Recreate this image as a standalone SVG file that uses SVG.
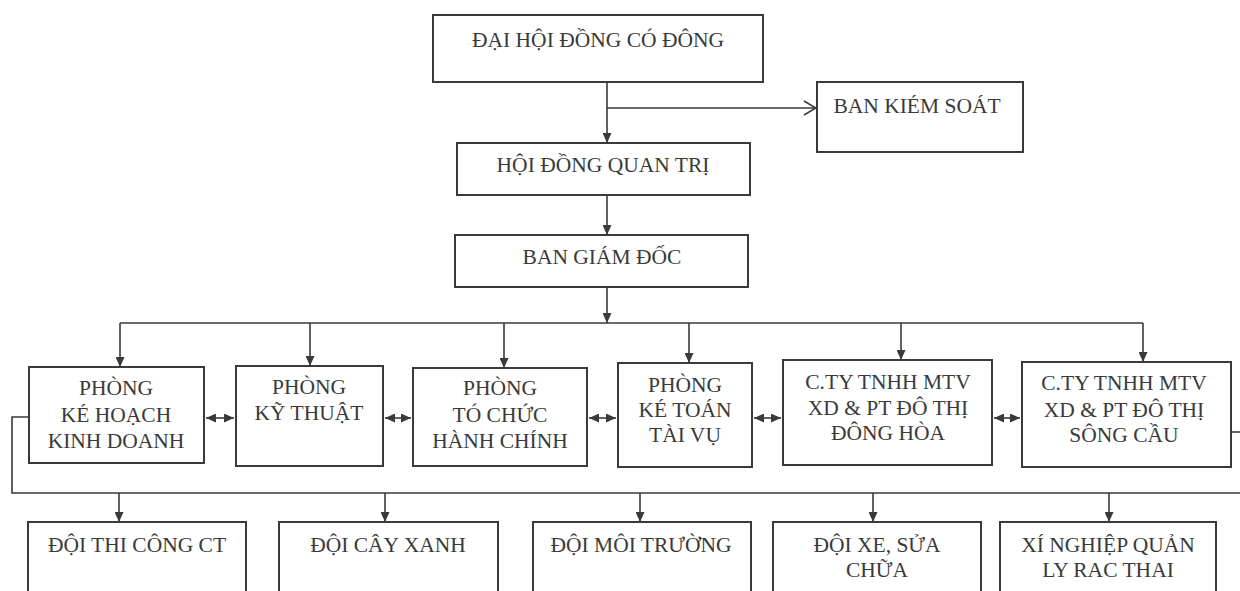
<svg xmlns="http://www.w3.org/2000/svg" width="1240" height="591" viewBox="0 0 1240 591">
<style>
.box{fill:#ffffff;stroke:#3a3a3a;stroke-width:2}
.t{font-family:"Liberation Serif","Times New Roman",serif;font-size:21.5px;fill:#3a3a3a;text-anchor:middle}
.c{fill:none;stroke:#3a3a3a;stroke-width:1.6}
.a{marker-end:url(#tri)}
.d{marker-start:url(#tri);marker-end:url(#tri)}
</style>
<defs>
<marker id="tri" markerUnits="userSpaceOnUse" markerWidth="10" markerHeight="9" refX="10" refY="4.5" orient="auto-start-reverse">
<path d="M0,0 L10,4.5 L0,9 z" fill="#3a3a3a"/>
</marker>
<marker id="open" markerUnits="userSpaceOnUse" markerWidth="14" markerHeight="16" refX="13" refY="8" orient="auto">
<path d="M1,1 L13,8 L1,15" fill="none" stroke="#3a3a3a" stroke-width="1.6"/>
</marker>
</defs>
<rect width="1240" height="591" fill="#ffffff"/>

<g id="connectors">
<path class="c a" d="M607,82 V143"/>
<path class="c" d="M607,108 H816" marker-end="url(#open)"/>
<path class="c a" d="M607,195 V235"/>
<path class="c a" d="M607,287 V323"/>
<path class="c" d="M120,323 H1143"/>
<path class="c a" d="M120,323 V367"/>
<path class="c a" d="M310,323 V366"/>
<path class="c a" d="M504,323 V368"/>
<path class="c a" d="M689,323 V363"/>
<path class="c a" d="M901,323 V360"/>
<path class="c a" d="M1143,323 V362"/>
<path class="c d" d="M206,418 H234"/>
<path class="c d" d="M385,418 H411"/>
<path class="c d" d="M589,418 H616"/>
<path class="c d" d="M754,418 H781"/>
<path class="c d" d="M994,418 H1020"/>
<path class="c" d="M29,417 H12 V493 H1240"/>
<path class="c" d="M1231,432 H1240"/>
<path class="c a" d="M119,493 V522"/>
<path class="c a" d="M385,493 V522"/>
<path class="c a" d="M640,493 V522"/>
<path class="c a" d="M873,493 V522"/>
<path class="c a" d="M1109,493 V522"/>
</g>

<g id="dai-hoi-dong-co-dong">
<rect class="box" x="433" y="15" width="330" height="67"/>
<text class="t" x="598" y="47">ĐẠI HỘI ĐỒNG CÓ ĐÔNG</text>
</g>
<g id="ban-kiem-soat">
<rect class="box" x="817" y="82" width="206" height="70"/>
<text class="t" x="917" y="113">BAN KIÉM SOÁT</text>
</g>
<g id="hoi-dong-quan-tri">
<rect class="box" x="457" y="143" width="293" height="52"/>
<text class="t" x="603" y="172">HỘI ĐỒNG QUAN TRỊ</text>
</g>
<g id="ban-giam-doc">
<rect class="box" x="455" y="235" width="293" height="52"/>
<text class="t" x="602" y="264">BAN GIÁM ĐỐC</text>
</g>

<g id="phong-ke-hoach-kinh-doanh">
<rect class="box" x="29" y="367" width="175" height="96"/>
<text class="t" x="116" y="395">PHÒNG</text>
<text class="t" x="116" y="422">KÉ HOẠCH</text>
<text class="t" x="116" y="448">KINH DOANH</text>
</g>
<g id="phong-ky-thuat">
<rect class="box" x="236" y="366" width="147" height="100"/>
<text class="t" x="309" y="394">PHÒNG</text>
<text class="t" x="309" y="420">KỸ THUẬT</text>
</g>
<g id="phong-to-chuc-hanh-chinh">
<rect class="box" x="413" y="368" width="174" height="98"/>
<text class="t" x="500" y="395">PHÒNG</text>
<text class="t" x="500" y="422">TÓ CHỨC</text>
<text class="t" x="500" y="448">HÀNH CHÍNH</text>
</g>
<g id="phong-ke-toan-tai-vu">
<rect class="box" x="618" y="363" width="134" height="104"/>
<text class="t" x="685" y="392">PHÒNG</text>
<text class="t" x="685" y="417">KÉ TOÁN</text>
<text class="t" x="685" y="442">TÀI VỤ</text>
</g>
<g id="cty-dong-hoa">
<rect class="box" x="783" y="360" width="209" height="105"/>
<text class="t" x="888" y="389">C.TY TNHH MTV</text>
<text class="t" x="888" y="415">XD &amp; PT ĐÔ THỊ</text>
<text class="t" x="888" y="440">ĐÔNG HÒA</text>
</g>
<g id="cty-song-cau">
<rect class="box" x="1022" y="362" width="209" height="105"/>
<text class="t" x="1124" y="390">C.TY TNHH MTV</text>
<text class="t" x="1124" y="417">XD &amp; PT ĐÔ THỊ</text>
<text class="t" x="1124" y="442">SÔNG CẦU</text>
</g>

<g id="doi-thi-cong-ct">
<rect class="box" x="28" y="522" width="218" height="80"/>
<text class="t" x="137" y="552">ĐỘI THI CÔNG CT</text>
</g>
<g id="doi-cay-xanh">
<rect class="box" x="279" y="522" width="219" height="80"/>
<text class="t" x="388" y="552">ĐỘI CÂY XANH</text>
</g>
<g id="doi-moi-truong">
<rect class="box" x="533" y="522" width="218" height="80"/>
<text class="t" x="641" y="552">ĐỘI MÔI TRƯỜNG</text>
</g>
<g id="doi-xe-sua-chua">
<rect class="box" x="773" y="522" width="208" height="80"/>
<text class="t" x="877" y="552">ĐỘI XE, SỬA</text>
<text class="t" x="877" y="577">CHỮA</text>
</g>
<g id="xi-nghiep-quan-ly-rac-thai">
<rect class="box" x="1000" y="522" width="216" height="80"/>
<text class="t" x="1108" y="552">XÍ NGHIỆP QUẢN</text>
<text class="t" x="1108" y="577">LY RAC THAI</text>
</g>
</svg>
